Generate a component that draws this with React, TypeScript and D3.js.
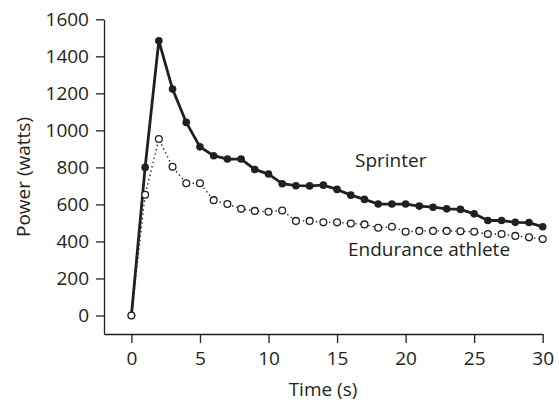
import React, { useEffect, useRef } from "react";
import * as d3 from "d3";

const times: number[] = Array.from({ length: 31 }, (_, i) => i);
const sprinter: number[] = [
  0, 800, 1484, 1223, 1043, 911, 863, 845, 845, 789, 764, 712, 701, 700, 704, 681,
  650, 627, 602, 602, 602, 591, 585, 576, 573, 549, 513, 513, 503, 502, 479,
];
const endurance: number[] = [
  0, 652, 953, 803, 714, 714, 623, 602, 576, 565, 560, 567, 511, 511, 503, 503,
  497, 492, 474, 479, 452, 457, 457, 457, 455, 452, 440, 440, 430, 422, 413,
];
const xTicks: number[] = [0, 5, 10, 15, 20, 25, 30];
const yTicks: number[] = [0, 200, 400, 600, 800, 1000, 1200, 1400, 1600];

const W = 559;
const H = 403;
const INK = "#231f20";
const FONT = "'Open Sans', 'Noto Sans', sans-serif";
const FS = "19px";

export default function App() {
  const ref = useRef<SVGSVGElement | null>(null);

  useEffect(() => {
    const svg = d3.select(ref.current);
    svg.selectAll("*").remove();

    const x = d3.scaleLinear().domain([-2, 30]).range([104, 542.7]);
    const y = d3.scaleLinear().domain([-100, 1600]).range([334, 19.3]);

    const yAxis = d3
      .axisLeft(y)
      .tickValues(yTicks)
      .tickFormat(d3.format("d"))
      .tickSize(8)
      .tickSizeOuter(0)
      .tickPadding(7);
    const gy = svg.append("g").attr("transform", `translate(${x(-2)},0)`).call(yAxis);

    const xAxis = d3
      .axisBottom(x)
      .tickValues(xTicks)
      .tickFormat(d3.format("d"))
      .tickSize(9)
      .tickSizeOuter(0)
      .tickPadding(9);
    const gx = svg.append("g").attr("transform", `translate(0,${y(-100)})`).call(xAxis);

    [gx, gy].forEach((g) => {
      g.select(".domain").attr("stroke", INK).attr("stroke-width", 1.3);
      g.selectAll(".tick line").attr("stroke", INK).attr("stroke-width", 1.3);
      g.selectAll(".tick text")
        .attr("fill", INK)
        .style("font-family", FONT)
        .style("font-size", FS);
    });

    const dataS = times.map((t, i) => [t, sprinter[i]] as [number, number]);
    const dataE = times.map((t, i) => [t, endurance[i]] as [number, number]);
    const line = d3
      .line<[number, number]>()
      .x((d) => x(d[0]))
      .y((d) => y(d[1]));

    svg
      .append("path")
      .attr("d", line(dataE) as string)
      .attr("fill", "none")
      .attr("stroke", INK)
      .attr("stroke-width", 1.4)
      .attr("stroke-dasharray", "1.4,3");

    svg
      .append("path")
      .attr("d", line(dataS) as string)
      .attr("fill", "none")
      .attr("stroke", INK)
      .attr("stroke-width", 2.8)
      .attr("stroke-linejoin", "round");

    svg
      .append("g")
      .selectAll("circle")
      .data(dataS)
      .join("circle")
      .attr("cx", (d) => x(d[0]))
      .attr("cy", (d) => y(d[1]))
      .attr("r", 3.8)
      .attr("fill", INK);

    svg
      .append("g")
      .selectAll("circle")
      .data(dataE)
      .join("circle")
      .attr("cx", (d) => x(d[0]))
      .attr("cy", (d) => y(d[1]))
      .attr("r", 3.4)
      .attr("fill", "#fff")
      .attr("stroke", INK)
      .attr("stroke-width", 1.3);

    const txt = (s: string, tx: number, ty: number, anchor = "start") =>
      svg
        .append("text")
        .attr("x", tx)
        .attr("y", ty)
        .attr("text-anchor", anchor)
        .attr("fill", INK)
        .style("font-family", FONT)
        .style("font-size", FS)
        .text(s);

    txt("Sprinter", 355, 167);
    txt("Endurance athlete", 348, 256);
    txt("Time (s)", 323, 396, "middle");
    txt("Power (watts)", 0, 0, "middle").attr(
      "transform",
      `translate(30,177) rotate(-90)`
    );
  }, []);

  return (
    <svg
      ref={ref}
      width={W}
      height={H}
      style={{ position: "absolute", left: 0, top: 0, background: "#fff" }}
    />
  );
}
